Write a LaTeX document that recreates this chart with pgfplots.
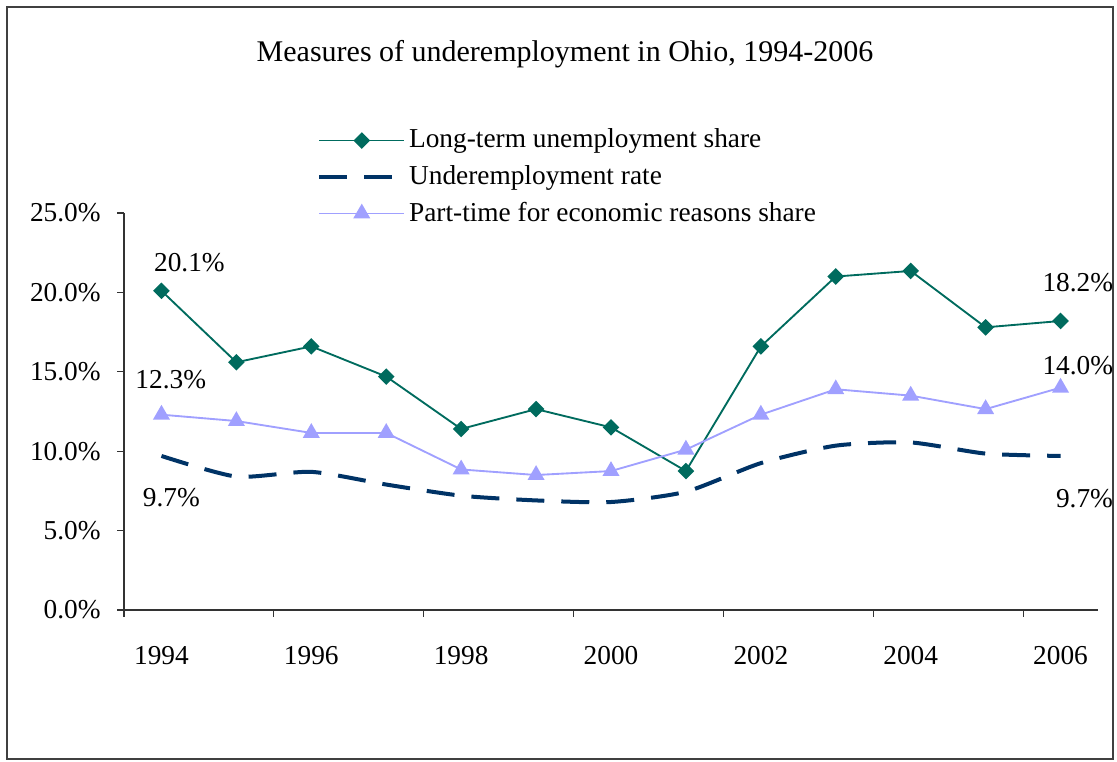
\documentclass[border=0pt]{standalone}
\usepackage{pgfplots}
\pgfplotsset{compat=1.18}
\usepackage{fontspec}
\setmainfont{Liberation Serif}
\definecolor{teal1}{HTML}{006B5E}
\definecolor{navy1}{HTML}{003366}
\definecolor{lav}{HTML}{A0A0FF}
\newcommand\fs{\fontsize{20.5}{24}\selectfont}
\begin{document}
\fs
\begin{tikzpicture}[font=\fs]
\useasboundingbox (-93pt,-113.25pt) rectangle (744.75pt,457.5pt);
\draw[line width=1.2pt, black!75] (-87.75pt,-111.75pt) rectangle (741.75pt,452.25pt);
\node[font=\fontsize{22.5}{26}\selectfont] at (330.75pt,416.5pt) {Measures of underemployment in Ohio, 1994-2006};
\begin{axis}[
  at={(0pt,0pt)}, anchor=south west,
  scale only axis, width=730.5pt, height=297.75pt,
  xmin=-0.5, xmax=12.5, ymin=0, ymax=25,
  axis x line=bottom, axis y line=left,
  axis line style={-, black!80, line width=0.8pt},
  xtick={-0.5,1.5,...,11.5}, xticklabels={},
  extra x ticks={0,2,...,12},
  extra x tick labels={1994,1996,1998,2000,2002,2004,2006},
  extra x tick style={major tick length=0pt, tick label style={yshift=-20pt}},
  ytick={0,5,...,25},
  yticklabel style={xshift=-5.5pt},
  tick align=outside, major tick length=5pt,
  tick style={black!80, line width=0.8pt},
  /pgf/number format/assume math mode=true,
  yticklabel={\pgfmathprintnumber[fixed,fixed zerofill,precision=1]{\tick}\%},
  ticklabel style={font=\fs},
  clip=false,
  legend style={draw=none, fill=none, at={(rel axis cs:0.198,1.219)}, anchor=north west,
    font=\fs, row sep=6pt, inner sep=0pt},
  legend cell align=left,
  legend image code/.code={\draw[mark repeat=2,mark phase=2,#1] plot coordinates {(0pt,0pt) (32pt,0pt) (64pt,0pt)};},
]
\addplot[teal1, line width=1.4pt, mark=square*, mark size=3.7pt, mark options={solid, rotate=45}]
 coordinates {(0,20.1) (1,15.6) (2,16.6) (3,14.7) (4,11.4) (5,12.65) (6,11.5) (7,8.75) (8,16.6) (9,21.0) (10,21.35) (11,17.8) (12,18.2)};
\addlegendentry{Long-term unemployment share}
\addplot[navy1, line width=3pt, dash pattern=on 21pt off 12.75pt, smooth, tension=0.4]
 coordinates {(0,9.7) (1,8.4) (2,8.7) (3,7.9) (4,7.2) (5,6.9) (6,6.8) (7,7.45) (8,9.25) (9,10.35) (10,10.55) (11,9.85) (12,9.7)};
\addlegendentry{Underemployment rate}
\addplot[lav, line width=1.4pt, mark=triangle*, mark size=6pt, mark options={solid}]
 coordinates {(0,12.3) (1,11.9) (2,11.15) (3,11.15) (4,8.85) (5,8.5) (6,8.75) (7,10.1) (8,12.3) (9,13.9) (10,13.5) (11,12.65) (12,14.0)};
\addlegendentry{Part-time for economic reasons share}
\node at (axis cs:0,20.1) [xshift=21pt, yshift=21pt] {20.1\%};
\node at (axis cs:0,12.3) [xshift=7pt, yshift=26pt] {12.3\%};
\node at (axis cs:0,9.7) [xshift=7.5pt, yshift=-31.5pt] {9.7\%};
\node at (axis cs:12,18.2) [xshift=13pt, yshift=29pt] {18.2\%};
\node at (axis cs:12,14.0) [xshift=13pt, yshift=16.5pt] {14.0\%};
\node at (axis cs:12,9.7) [xshift=18pt, yshift=-32pt] {9.7\%};
\end{axis}
\end{tikzpicture}
\end{document}
